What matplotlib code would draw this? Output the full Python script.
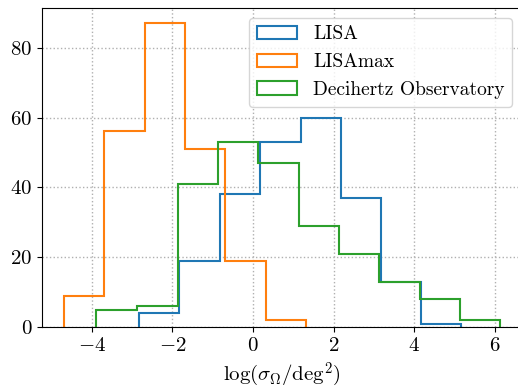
import numpy as np
import matplotlib
matplotlib.use("Agg")
import matplotlib.pyplot as plt

plt.rcParams.update({
    "font.family": "serif",
    "font.serif": ["cmr10"],
    "mathtext.fontset": "cm",
    "axes.formatter.use_mathtext": True,
    "font.size": 15,
})

# bin edges and counts per detector
lisa_edges = [-2.83, -1.83, -0.82, 0.17, 1.18, 2.18, 3.17, 4.17, 5.17]
lisa_counts = [4, 19, 38, 53, 60, 37, 13, 1]

lisamax_edges = [-4.69, -3.69, -2.68, -1.69, -0.69, 0.32, 1.32]
lisamax_counts = [9, 56, 87, 51, 19, 2]

deci_edges = [-3.88, -2.88, -1.86, -0.86, 0.13, 1.14, 2.13, 3.13, 4.13, 5.13, 6.13]
deci_counts = [5, 6, 41, 53, 47, 29, 21, 13, 8, 2]

labels = ["LISA", "LISAmax", "Decihertz Observatory"]

fig = plt.figure(figsize=(5.18, 3.88), dpi=100)
ax = fig.add_axes([0.0811, 0.1572, 0.9266, 0.822])

for edges, counts, lab in zip([lisa_edges, lisamax_edges, deci_edges],
                              [lisa_counts, lisamax_counts, deci_counts], labels):
    edges = np.array(edges)
    ax.hist(edges[:-1] + 0.01, bins=edges, weights=counts,
            histtype="step", linewidth=1.5, label=lab)

ax.grid(True, linestyle=":", color="#b0b0b0", linewidth=1.0)
ax.set_axisbelow(True)
ax.set_xticks([-4, -2, 0, 2, 4, 6])
ax.set_yticks([0, 20, 40, 60, 80])
ax.set_xlabel(r"$\log(\sigma_\Omega/\mathrm{deg}^2)$")
ax.legend(loc="upper right", fontsize=14, handlelength=2.1)

fig.savefig("out.png", dpi=100)
